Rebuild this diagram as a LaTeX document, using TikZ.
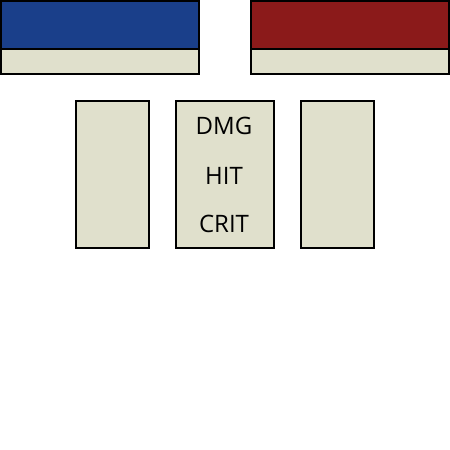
\documentclass[tikz,border=0pt]{standalone}
\usepackage{fontspec}
\setmainfont{Open Sans}
\definecolor{bluec}{HTML}{1A3F8A}
\definecolor{redc}{HTML}{8B1A1A}
\definecolor{beige}{HTML}{E0E0CC}
\begin{document}
\begin{tikzpicture}[x=1pt,y=-1pt,line width=2pt,
  panel/.style={draw=black,fill=beige},
  lbl/.style={font=\fontsize{24}{28}\selectfont,text=black}]
\useasboundingbox (0,0) rectangle (450,450);
\draw[fill=bluec] (1,1) rectangle (199,49);
\draw[panel] (1,49) rectangle (199,74);
\draw[fill=redc] (251,1) rectangle (449,49);
\draw[panel] (251,49) rectangle (449,74);
\node[panel,minimum width=73pt,minimum height=147pt,inner sep=0pt] (l) at (112.5,174.5) {};
\node[panel,minimum width=98pt,minimum height=147pt,inner sep=0pt] (m) at (225,174.5) {};
\node[panel,minimum width=73pt,minimum height=147pt,inner sep=0pt] (r) at (337.5,174.5) {};
\node[lbl] (dmg) at (224,126) {DMG};
\node[lbl] (hit) at (224,176) {HIT};
\node[lbl] (crit) at (224,224) {CRIT};
\end{tikzpicture}
\end{document}
